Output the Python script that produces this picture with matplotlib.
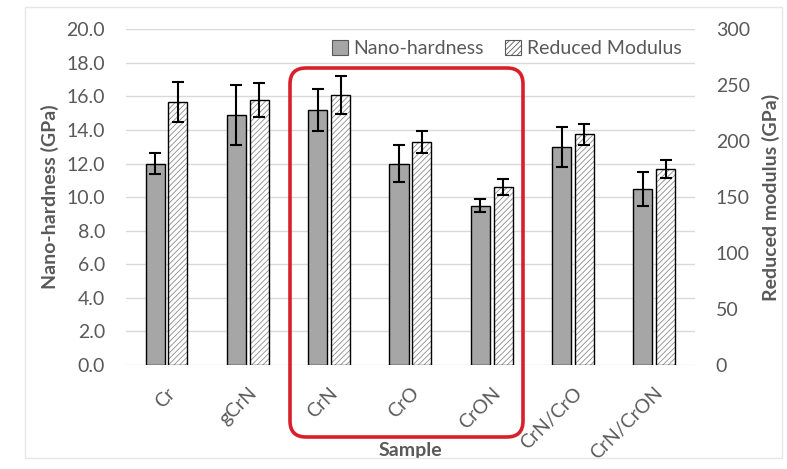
import matplotlib.pyplot as plt
import numpy as np
from matplotlib.patches import FancyBboxPatch, Rectangle
from matplotlib.transforms import IdentityTransform

samples = ['Cr', 'gCrN', 'CrN', 'CrO', 'CrON', 'CrN/CrO', 'CrN/CrON']
hardness = [12.0, 14.9, 15.2, 12.0, 9.5, 13.0, 10.5]
hardness_err = [0.6, 1.8, 1.25, 1.1, 0.4, 1.2, 1.0]
modulus = [235, 237, 241, 199, 159, 206, 175]
modulus_err = [18, 15, 17, 10, 7, 9, 8]

plt.rcParams['font.family'] = ['Lato', 'DejaVu Sans']
txt = '#595959'
grid = '#d9d9d9'
fs = 14

fig = plt.figure(figsize=(7.87, 4.69), dpi=100)
ax1 = fig.add_axes([0.160, 0.2217, 0.723, 0.716])
ax2 = ax1.twinx()

x = np.arange(len(samples))
w = 0.235
off = 0.14

ax1.bar(x - off, hardness, w, color='#a6a6a6', edgecolor='black', linewidth=1,
        label='Nano-hardness', zorder=3)
ax1.errorbar(x - off, hardness, yerr=hardness_err, fmt='none', ecolor='black',
             elinewidth=1.5, capsize=4, capthick=1.5, zorder=4)

plt.rcParams['hatch.linewidth'] = 0.6
ax2.bar(x + off, modulus, w, color='white', edgecolor='#8c8c8c', hatch='//////',
        linewidth=0, zorder=3)
ax2.bar(x + off, modulus, w, color='none', edgecolor='black', linewidth=1, zorder=3)
ax2.errorbar(x + off, modulus, yerr=modulus_err, fmt='none', ecolor='black',
             elinewidth=1.5, capsize=4, capthick=1.5, zorder=4)

ax1.set_xlim(-0.5, len(samples) - 0.5)
ax1.set_ylim(0, 20)
ax2.set_ylim(0, 300)
ax1.set_yticks(np.arange(0, 20.1, 2))
ax1.set_yticklabels([f'{v:.1f}' for v in np.arange(0, 20.1, 2)])
ax2.set_yticks(np.arange(0, 301, 50))
ax1.set_xticks(x)
ax1.set_xticklabels(samples, rotation=45, ha='right', rotation_mode='anchor')

ax1.grid(axis='y', color=grid, linewidth=1, zorder=0)
ax1.set_axisbelow(True)
for a in (ax1, ax2):
    for s in a.spines.values():
        s.set_visible(False)
    a.tick_params(length=0, labelsize=fs, labelcolor=txt)
ax1.tick_params(axis='y', pad=15)
ax2.tick_params(axis='y', pad=15)
ax1.tick_params(axis='x', pad=14)

ax1.set_ylabel('Nano-hardness (GPa)', fontsize=fs, fontweight='bold', color=txt)
ax2.set_ylabel('Reduced modulus (GPa)', fontsize=fs, fontweight='bold', color=txt)
ax1.set_xlabel('Sample', fontsize=fs, fontweight='bold', color=txt)
ax1.yaxis.set_label_coords(-0.118, 0.5)
ax2.yaxis.set_label_coords(1.118, 0.5)
ax1.xaxis.set_label_coords(0.5, -0.228)

h1 = Rectangle((0, 0), 1, 1, facecolor='#a6a6a6', edgecolor='#595959', linewidth=0.8)
h2 = Rectangle((0, 0), 1, 1, facecolor='white', edgecolor='#595959', hatch='//////', linewidth=0.8)
leg = ax2.legend([h1, h2], ['Nano-hardness', 'Reduced Modulus'], ncol=2, loc='center right',
                 bbox_to_anchor=(0.99, 0.943), borderaxespad=0, frameon=False, fontsize=fs,
                 handlelength=0.8, handleheight=0.8, handletextpad=0.3, columnspacing=1.1)
for t in leg.get_texts():
    t.set_color(txt)

# outer frame and red highlight box, in pixels
fig.add_artist(Rectangle((25, 11), 757, 451, transform=IdentityTransform(),
                         fill=False, edgecolor='#e6e6e6', linewidth=1))
fig.add_artist(FancyBboxPatch((290, 469 - 437), 233, 369, transform=IdentityTransform(),
                              boxstyle='round,pad=0,rounding_size=16',
                              fill=False, edgecolor='#d9202a', linewidth=2.6, zorder=10))

fig.savefig('out.png', dpi=100)
